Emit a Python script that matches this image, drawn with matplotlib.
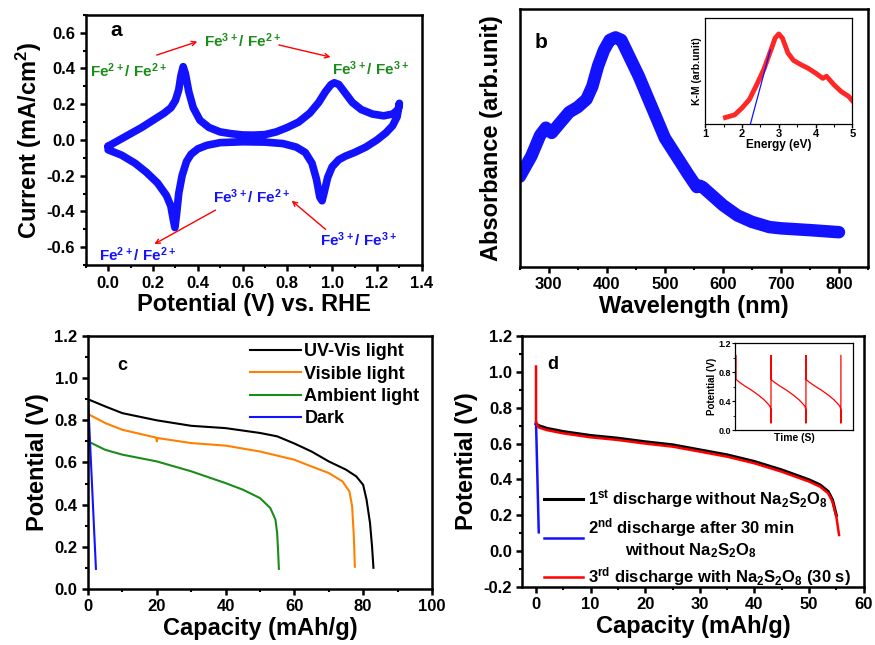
import matplotlib
matplotlib.use("Agg")
import matplotlib.pyplot as plt
from matplotlib.ticker import MultipleLocator, NullLocator
import numpy as np

plt.rcParams.update({
    'font.family': ['Liberation Sans', 'DejaVu Sans'],
    'font.weight': 'bold',
    'axes.labelweight': 'bold',
    'axes.unicode_minus': False,
    'mathtext.default': 'regular',
    'axes.linewidth': 1.8,
    'xtick.direction': 'out',
    'ytick.direction': 'out',
    'xtick.major.width': 1.8,
    'ytick.major.width': 1.8,
    'xtick.minor.width': 1.5,
    'ytick.minor.width': 1.5,
    'xtick.major.size': 4,
    'ytick.major.size': 4,
    'xtick.minor.size': 2.5,
    'ytick.minor.size': 2.5,
})

BLUE = '#1212ff'
GREEN = '#1a8c1a'
ORANGE = '#ff8000'

# (a) cyclic voltammogram, anodic sweep then cathodic sweep
cv_v = [0.0, 0.05, 0.10, 0.15, 0.20, 0.25, 0.28, 0.30, 0.315, 0.325, 0.335, 0.345, 0.36, 0.38, 0.41,
        0.45, 0.50, 0.55, 0.60, 0.65, 0.70, 0.75, 0.80, 0.85, 0.90, 0.94, 0.97, 0.995, 1.01, 1.03,
        1.06, 1.09, 1.13, 1.18, 1.23, 1.27, 1.295, 1.30,
        1.29, 1.27, 1.24, 1.20, 1.15, 1.10, 1.06, 1.03, 1.00, 0.98, 0.965, 0.955, 0.945, 0.93, 0.91,
        0.88, 0.84, 0.78, 0.70, 0.60, 0.50, 0.44, 0.40, 0.37, 0.35, 0.33, 0.315, 0.305, 0.298, 0.29,
        0.28, 0.26, 0.22, 0.17, 0.12, 0.06, 0.0, 0.0]
cv_i = [-0.035, 0.0, 0.035, 0.07, 0.11, 0.15, 0.18, 0.22, 0.28, 0.36, 0.41, 0.37, 0.27, 0.18, 0.11,
        0.07, 0.045, 0.035, 0.028, 0.027, 0.03, 0.045, 0.07, 0.10, 0.15, 0.21, 0.27, 0.31, 0.32, 0.31,
        0.26, 0.21, 0.17, 0.145, 0.135, 0.145, 0.17, 0.205,
        0.13, 0.08, 0.04, 0.0, -0.04, -0.07, -0.09, -0.11, -0.15, -0.21, -0.29, -0.34, -0.32, -0.22, -0.13,
        -0.07, -0.04, -0.02, -0.012, -0.01, -0.015, -0.03, -0.05, -0.08, -0.12, -0.2, -0.3, -0.42, -0.49, -0.44,
        -0.37, -0.31, -0.24, -0.18, -0.13, -0.085, -0.055, -0.035]

# (b) absorbance spectrum (arbitrary units) and K-M inset
wl = [250, 260, 270, 285, 295, 305, 320, 335, 350, 365, 375, 385, 395, 405, 415, 425, 440, 455,
      470, 485, 500, 520, 540, 555, 560, 565, 580, 600, 625, 650, 680, 700, 750, 800]
absorb = [0.35, 0.39, 0.43, 0.51, 0.54, 0.52, 0.56, 0.60, 0.62, 0.65, 0.70, 0.78, 0.84, 0.88, 0.89,
          0.88, 0.81, 0.74, 0.66, 0.58, 0.50, 0.43, 0.36, 0.31, 0.315, 0.31, 0.28, 0.24, 0.20, 0.175,
          0.155, 0.15, 0.143, 0.135]
km_e = [1.55, 1.8, 2.0, 2.2, 2.4, 2.6, 2.8, 2.9, 3.0, 3.1, 3.25, 3.4, 3.6, 3.8, 4.0, 4.2, 4.3,
        4.5, 4.7, 4.9, 5.0]
km_y = [0.06, 0.085, 0.15, 0.23, 0.37, 0.52, 0.71, 0.81, 0.85, 0.81, 0.67, 0.60, 0.56, 0.525,
        0.48, 0.43, 0.45, 0.37, 0.305, 0.26, 0.22]
fit_e = [2.23, 2.77]
fit_y = [0.0, 0.70]

# (c) discharge curves under different illumination
uv_cap = [0, 5, 10, 20, 30, 40, 50, 55, 60, 65, 70, 75, 78, 80, 81, 82, 82.6, 83]
uv_pot = [0.90, 0.866, 0.834, 0.80, 0.774, 0.763, 0.74, 0.724, 0.69, 0.652, 0.605, 0.566,
          0.534, 0.494, 0.423, 0.313, 0.20, 0.10]
vis_cap = [0, 0, 5, 10, 19.8, 20, 20.2, 30, 40, 50, 60, 65, 70, 74, 76, 76.8, 77.3, 77.6]
vis_pot = [1.04, 0.83, 0.787, 0.755, 0.718, 0.70, 0.716, 0.692, 0.68, 0.652, 0.613, 0.581, 0.55,
           0.51, 0.463, 0.392, 0.25, 0.105]
amb_cap = [0, 0, 5, 10, 20, 30, 40, 45, 50, 53, 54.5, 55, 55.3, 55.5]
amb_pot = [1.04, 0.70, 0.66, 0.637, 0.605, 0.558, 0.502, 0.471, 0.431, 0.384, 0.329, 0.265, 0.17, 0.095]
dark_cap = [0, 2.3]
dark_pot = [0.90, 0.095]

# (d) discharge with / without Na2S2O8
d1_cap = [0, 0.5, 2, 5, 10, 15, 20, 25, 30, 35, 40, 45, 50, 52, 53.5, 54.3, 55]
d1_pot = [0.71, 0.70, 0.685, 0.667, 0.645, 0.63, 0.61, 0.593, 0.565, 0.537, 0.50, 0.453, 0.398,
          0.37, 0.333, 0.286, 0.20]
d2_cap = [0, 0.5]
d2_pot = [0.72, 0.105]
d3_cap = [0, 0, 0.5, 2, 5, 10, 15, 20, 25, 30, 35, 40, 45, 50, 52, 53.5, 54.3, 55, 55.5]
d3_pot = [1.03, 0.72, 0.69, 0.675, 0.657, 0.635, 0.62, 0.60, 0.583, 0.555, 0.527, 0.49, 0.443,
          0.388, 0.36, 0.323, 0.276, 0.193, 0.09]
# one charge/discharge cycle of the inset (time as fraction of a cycle)
cyc_t = [0, 0, 0.1, 0.25, 0.45, 0.65, 0.8, 0.9, 0.97, 1.0, 1.0]
cyc_v = [1.03, 0.70, 0.66, 0.61, 0.55, 0.48, 0.42, 0.37, 0.33, 0.28, 0.10]
n_cycles = 3

TICK_FS = 12
LABEL_FS = 17


def bold_ticks(ax):
    for lbl in ax.get_xticklabels() + ax.get_yticklabels():
        lbl.set_fontweight('bold')


fig = plt.figure(figsize=(8.75, 6.45), dpi=100)

# ---------------- (a)
ax = fig.add_axes([0.098, 0.589, 0.384, 0.388])
ax.plot(cv_v, cv_i, color=BLUE, lw=5.5, solid_joinstyle='round', solid_capstyle='round')
ax.set_xlim(-0.1, 1.4)
ax.set_ylim(-0.7, 0.7)
ax.xaxis.set_minor_locator(MultipleLocator(0.1))
ax.yaxis.set_major_locator(MultipleLocator(0.2))
ax.yaxis.set_minor_locator(MultipleLocator(0.1))
ax.set_xticks(np.arange(0, 1.41, 0.2))
ax.tick_params(labelsize=TICK_FS)
ax.set_xlabel('Potential (V) vs. RHE', fontsize=LABEL_FS, labelpad=2)
ax.set_ylabel('Current (mA/cm$^2$)', fontsize=LABEL_FS, labelpad=2)
ax.text(0.01, 0.61, 'a', fontsize=15, ha='left', va='center')
tkw = dict(fontsize=11, ha='center', va='center')
ax.text(0.09, 0.385, 'Fe$^{2+}$/ Fe$^{2+}$', color=GREEN, **tkw)
ax.text(0.60, 0.555, 'Fe$^{3+}$/ Fe$^{2+}$', color=GREEN, **tkw)
ax.text(1.17, 0.40, 'Fe$^{3+}$/ Fe$^{3+}$', color=GREEN, **tkw)
ax.text(0.64, -0.315, 'Fe$^{3+}$/ Fe$^{2+}$', color=BLUE, **tkw)
ax.text(1.12, -0.56, 'Fe$^{3+}$/ Fe$^{3+}$', color=BLUE, **tkw)
ax.text(0.13, -0.64, 'Fe$^{2+}$/ Fe$^{2+}$', color=BLUE, **tkw)
akw = dict(arrowstyle='->', color='red', lw=1.0, mutation_scale=8)
ax.annotate('', xy=(0.41, 0.555), xytext=(0.205, 0.47), arrowprops=akw)
ax.annotate('', xy=(1.005, 0.46), xytext=(0.75, 0.535), arrowprops=akw)
ax.annotate('', xy=(0.81, -0.33), xytext=(0.98, -0.51), arrowprops=akw)
ax.annotate('', xy=(0.195, -0.59), xytext=(0.49, -0.385), arrowprops=akw)
bold_ticks(ax)

# ---------------- (b)
ax = fig.add_axes([0.594, 0.586, 0.398, 0.400])
ax.plot(wl, absorb, color=BLUE, lw=9, solid_joinstyle='round', solid_capstyle='round')
ax.set_xlim(250, 850)
ax.set_ylim(0, 1)
ax.xaxis.set_minor_locator(MultipleLocator(50))
ax.set_xticks(np.arange(300, 801, 100))
ax.yaxis.set_major_locator(NullLocator())
ax.tick_params(labelsize=TICK_FS)
ax.set_xlabel('Wavelength (nm)', fontsize=LABEL_FS, labelpad=2)
ax.set_ylabel('Absorbance (arb.unit)', fontsize=LABEL_FS, labelpad=12)
ax.text(287, 0.87, 'b', fontsize=15, ha='center', va='center')
bold_ticks(ax)

axi = fig.add_axes([0.806, 0.808, 0.168, 0.164])
axi.plot(km_e, km_y, color='red', lw=3.5, alpha=0.85, solid_joinstyle='round')
axi.plot(fit_e, fit_y, color=BLUE, lw=0.9)
axi.set_xlim(1, 5)
axi.set_ylim(0, 1.0)
axi.xaxis.set_major_locator(MultipleLocator(1))
axi.xaxis.set_minor_locator(MultipleLocator(0.5))
axi.yaxis.set_major_locator(NullLocator())
axi.tick_params(labelsize=8, width=1, length=3, pad=1)
axi.tick_params(which='minor', width=0.8, length=1.8)
axi.set_xlabel('Energy (eV)', fontsize=8.5, labelpad=0)
axi.set_ylabel('K-M (arb.unit)', fontsize=7.5, labelpad=2)
for s in axi.spines.values():
    s.set_linewidth(0.9)
bold_ticks(axi)

# ---------------- (c)
ax = fig.add_axes([0.1006, 0.087, 0.393, 0.392])
ax.plot(uv_cap, uv_pot, color='black', lw=1.5, label='UV-Vis light')
ax.plot(vis_cap, vis_pot, color=ORANGE, lw=1.5, label='Visible light')
ax.plot(amb_cap, amb_pot, color=GREEN, lw=1.5, label='Ambient light')
ax.plot(dark_cap, dark_pot, color=BLUE, lw=1.5, label='Dark')
ax.set_xlim(0, 100)
ax.set_ylim(0, 1.2)
ax.xaxis.set_major_locator(MultipleLocator(20))
ax.xaxis.set_minor_locator(MultipleLocator(10))
ax.yaxis.set_major_locator(MultipleLocator(0.2))
ax.yaxis.set_minor_locator(MultipleLocator(0.1))
ax.tick_params(labelsize=TICK_FS)
ax.set_xlabel('Capacity (mAh/g)', fontsize=LABEL_FS, labelpad=2)
ax.set_ylabel('Potential (V)', fontsize=LABEL_FS, labelpad=4)
ax.text(9.9, 1.06, 'c', fontsize=13, ha='center', va='center')
ax.legend(loc='upper left', bbox_to_anchor=(0.44, 1.015), frameon=False, fontsize=13,
          handlelength=2.8, handletextpad=0.2, labelspacing=0.3, borderaxespad=0.2)
bold_ticks(ax)

# ---------------- (d)
ax = fig.add_axes([0.597, 0.090, 0.390, 0.389])
ax.plot(d1_cap, d1_pot, color='black', lw=2.2,
        label='1$^{st}$ discharge without Na$_2$S$_2$O$_8$')
ax.plot(d2_cap, d2_pot, color=BLUE, lw=1.8,
        label='2$^{nd}$ discharge after 30 min\nwithout Na$_2$S$_2$O$_8$')
ax.plot(d3_cap, d3_pot, color='red', lw=1.8,
        label='3$^{rd}$ discharge with Na$_2$S$_2$O$_8$ (30 s)')
ax.set_xlim(-2.5, 60)
ax.set_ylim(-0.2, 1.2)
ax.xaxis.set_major_locator(MultipleLocator(10))
ax.xaxis.set_minor_locator(MultipleLocator(5))
ax.yaxis.set_major_locator(MultipleLocator(0.2))
ax.yaxis.set_minor_locator(MultipleLocator(0.1))
ax.tick_params(labelsize=TICK_FS)
ax.set_xlabel('Capacity (mAh/g)', fontsize=LABEL_FS, labelpad=2)
ax.set_ylabel('Potential (V)', fontsize=LABEL_FS, labelpad=4)
ax.text(3.1, 1.04, 'd', fontsize=13, ha='center', va='center')
leg = ax.legend(loc='lower left', bbox_to_anchor=(0.035, -0.045), frameon=False, fontsize=12,
                handlelength=2.3, handletextpad=0.3, labelspacing=0.3, borderaxespad=0.2)
for t in leg.get_texts():
    t.set_multialignment('center')
bold_ticks(ax)

axi = fig.add_axes([0.840, 0.333, 0.135, 0.135])
ins_t, ins_v = [], []
for k in range(n_cycles):
    ins_t += [k + t for t in cyc_t]
    ins_v += cyc_v
ins_t.append(n_cycles)
ins_v.append(cyc_v[0])
axi.plot(ins_t, ins_v, color='red', lw=0.9)
axi.set_xlim(-0.03, 3.35)
axi.set_ylim(0, 1.2)
axi.xaxis.set_major_locator(NullLocator())
axi.yaxis.set_major_locator(MultipleLocator(0.4))
axi.yaxis.set_minor_locator(MultipleLocator(0.2))
axi.tick_params(labelsize=6.5, width=0.8, length=2, pad=1)
axi.tick_params(which='minor', width=0.6, length=1.2)
axi.set_xlabel('Time (S)', fontsize=7.5, labelpad=2)
axi.set_ylabel('Potential (V)', fontsize=7, labelpad=1)
for s in axi.spines.values():
    s.set_linewidth(0.9)
bold_ticks(axi)

fig.savefig('out.png', dpi=100)
